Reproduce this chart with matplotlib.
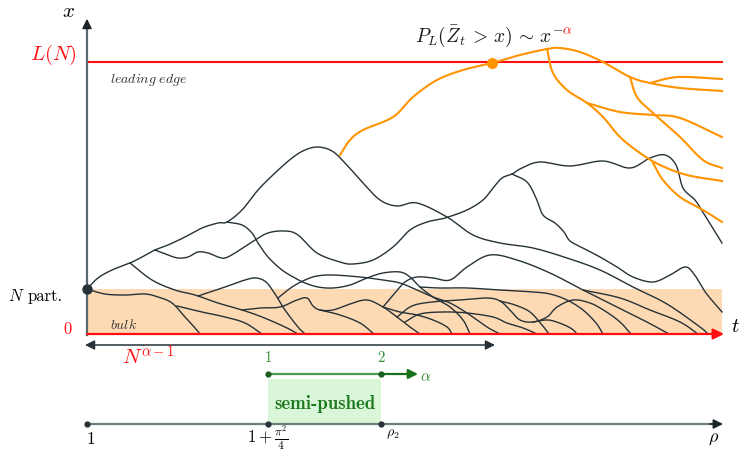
import numpy as np
import matplotlib
matplotlib.use('Agg')
import matplotlib.pyplot as plt
from matplotlib.transforms import Bbox

plt.rcParams['mathtext.fontset'] = 'cm'
plt.rcParams['font.family'] = ['cmr10', 'DejaVu Serif']
plt.rcParams['axes.unicode_minus'] = False

# schematic coordinates (pixel-like, y grows downwards)
T0, T1 = 87, 722          # time axis extent
Y0, YL, YB = 334, 62, 289  # t axis, L(N) level, top of bulk
RHO_Y = 424
rho_ticks = [87, 268, 381]
alpha_ticks = [268, 381]

# particle paths (dark), as (t, x) control points
trunk = [(87, 289), (98, 278), (112, 270), (130, 263), (142, 257), (155, 250), (168, 245), (185, 237),
         (202, 228), (218, 223), (227, 222), (242, 210), (258, 190), (275, 173), (292, 158), (305, 150),
         (318, 147), (332, 151), (345, 163), (363, 183), (380, 200), (397, 206), (417, 203), (447, 217),
         (473, 235), (500, 243), (533, 248), (567, 258), (600, 270), (633, 287), (667, 304), (700, 327),
         (708, 334)]
wavy = [(155, 250), (168, 255), (178, 258), (188, 257), (198, 252), (208, 253), (218, 257), (225, 258),
        (235, 253), (252, 242), (268, 233), (285, 231), (298, 235), (317, 253), (340, 262), (353, 264),
        (373, 260), (393, 247), (410, 230), (427, 222), (445, 218), (467, 210), (483, 200), (493, 188),
        (502, 178), (512, 174), (522, 168), (540, 162), (570, 166), (603, 161), (630, 168), (650, 158),
        (665, 155), (676, 165), (683, 188), (695, 200), (704, 214), (722, 243)]
drop = [(512, 174), (527, 182), (536, 198), (543, 215), (555, 223), (564, 232), (570, 241), (583, 248),
        (600, 257), (617, 267), (633, 277), (653, 282), (670, 275), (685, 267), (694, 274), (706, 293),
        (722, 312)]
hump_left = [(227, 222), (242, 225), (252, 233), (258, 243), (268, 257), (282, 270), (295, 278),
             (305, 283), (318, 287), (333, 288), (350, 285), (367, 278), (383, 273), (400, 272),
             (410, 277), (420, 287), (433, 297), (450, 307), (463, 320), (470, 334)]
root_low = [(87, 289), (105, 294), (125, 295), (145, 294), (158, 297), (172, 303), (185, 317),
            (195, 328), (200, 334)]
b_path = [(177, 306), (202, 312), (225, 317), (245, 323), (262, 334)]
c_path = [(130, 263), (152, 280), (175, 290), (195, 295), (218, 303), (242, 310), (262, 317),
          (285, 327), (298, 334)]
d_path = [(198, 296), (225, 287), (245, 280), (256, 278), (266, 282), (275, 294), (285, 310),
          (298, 327), (305, 334)]
e_path = [(278, 298), (292, 287), (305, 280), (317, 276), (333, 275), (360, 277), (383, 280),
          (400, 283), (417, 290), (433, 297), (450, 303), (467, 313), (487, 327), (500, 334)]
f_path = [(242, 310), (260, 308), (280, 307), (297, 300), (307, 298), (313, 306), (320, 310),
          (333, 310), (350, 304), (367, 300), (383, 307), (397, 317), (410, 327), (420, 334)]
g_path = [(320, 310), (340, 315), (360, 323), (374, 334)]
h_path = [(383, 307), (395, 293), (405, 282), (417, 277), (433, 278), (450, 280), (467, 267),
          (490, 255), (517, 260), (550, 273), (583, 290), (617, 307), (645, 321), (669, 334)]
i_path = [(420, 287), (440, 288), (467, 288), (500, 290), (533, 292), (550, 294), (567, 300),
          (583, 310), (596, 323), (603, 334)]
j_path = [(397, 317), (412, 306), (432, 302), (460, 300), (487, 298), (500, 301), (510, 310),
          (520, 320), (533, 322), (547, 317), (557, 307), (573, 300), (590, 303), (605, 311),
          (620, 322), (631, 334)]
k_path = [(383, 307), (400, 312), (417, 315), (433, 320), (447, 327), (452, 334)]
l_path = [(405, 322), (420, 314), (443, 312), (467, 313), (493, 317), (507, 323), (523, 328),
          (537, 334)]
m_path = [(533, 322), (548, 320), (562, 324), (572, 329), (577, 334)]
n_path = [(500, 301), (515, 305), (530, 312), (542, 325), (549, 334)]
o_path = [(583, 290), (620, 298), (650, 310), (680, 322), (698, 334)]
dark_paths = [trunk, wavy, drop, hump_left, root_low, b_path, c_path, d_path, e_path, f_path,
              g_path, h_path, i_path, j_path, k_path, l_path, m_path, n_path, o_path]

# leading edge paths (orange)
lead = [(340, 155), (350, 140), (363, 130), (393, 117), (413, 97), (437, 80), (463, 70), (492, 63),
        (520, 55), (547, 49), (560, 48), (580, 52), (603, 62), (630, 77), (650, 83), (680, 88),
        (722, 91)]
lead_a = [(630, 77), (637, 97), (653, 113), (680, 137), (703, 160), (722, 168)]
lead_b = [(650, 83), (670, 78), (687, 77), (722, 79)]
lead_c = [(547, 49), (553, 73), (567, 90), (587, 103), (603, 117), (620, 137), (640, 153),
          (660, 165), (687, 175), (722, 181)]
lead_d = [(587, 103), (620, 112), (653, 115), (680, 118), (722, 137)]
lead_e = [(653, 163), (663, 180), (680, 197), (703, 210), (722, 222)]
orange_paths = [lead, lead_a, lead_b, lead_c, lead_d, lead_e]
hit_point = (492, 63)


def smooth(pts, n=14):
    p = np.asarray(pts, float)
    p = np.vstack([2 * p[0] - p[1], p, 2 * p[-1] - p[-2]])
    s = np.linspace(0, 1, n, endpoint=False)[:, None]
    out = []
    for i in range(1, len(p) - 2):
        p0, p1, p2, p3 = p[i - 1], p[i], p[i + 1], p[i + 2]
        out.append(0.5 * (2 * p1 + (-p0 + p2) * s + (2 * p0 - 5 * p1 + 4 * p2 - p3) * s ** 2
                          + (-p0 + 3 * p1 - 3 * p2 + p3) * s ** 3))
    out.append(p[-2][None])
    return np.vstack(out)


fig = plt.figure(figsize=(7.41, 4.54), dpi=100)
ax = fig.add_axes([0, 0, 1, 1])
ax.set_xlim(0, 741)
ax.set_ylim(454, 0)
ax.axis('off')

dark = '#263238'
red = '#ff1010'
orange = '#ff9400'
green = '#1e7a1e'

# bulk band
ax.fill_between([T0, T1], YB, Y0, color='#fddab3', lw=0, zorder=1)

for p in dark_paths:
    c = smooth(p)
    ax.plot(c[:, 0], c[:, 1], color=dark, lw=1.0, zorder=3)
for p in orange_paths:
    c = smooth(p)
    ax.plot(c[:, 0], c[:, 1], color=orange, lw=1.5, zorder=4)

# L(N)
ax.plot([T0, T1], [YL, YL], color=red, lw=1.5, zorder=3)
ax.plot(*hit_point, 'o', color=orange, ms=7, zorder=5)
ax.plot(T0, YB, 'o', color=dark, ms=6.5, zorder=6)

# axes
ax.plot([T0, T0], [Y0 + 1, 22], color='#59696e', lw=1.6, zorder=5)
ax.annotate('', xy=(T0, 16), xytext=(T0, 30),
            arrowprops=dict(arrowstyle='-|>', color='#1c2326', lw=1.2, mutation_scale=14), zorder=6)
ax.annotate('', xy=(T1 + 2, Y0), xytext=(T0, Y0),
            arrowprops=dict(arrowstyle='-|>', color=red, lw=1.6, mutation_scale=16,
                            shrinkA=0, shrinkB=0), zorder=6)
ax.annotate('', xy=(T0 - 2, 345), xytext=(495, 345),
            arrowprops=dict(arrowstyle='<|-|>', color=dark, lw=1.1, mutation_scale=14,
                            shrinkA=0, shrinkB=0))

# labels
ax.text(68, 12, r'$x$', fontsize=15, ha='center', va='center')
ax.text(735, 327, r'$t$', fontsize=15, ha='center', va='center')
ax.text(53, 55, r'$L(N)$', fontsize=15, color=red, ha='center', va='center')
ax.text(110, 80, r'$\mathit{leading\ edge}$', fontsize=10, color='#333333', va='center')
ax.text(110, 325, r'$\mathit{bulk}$', fontsize=10, color='#333333', va='center')
ax.text(8, 296, r'$N$', fontsize=12, va='center')
ax.text(28, 296, 'part.', fontsize=12, va='center')
ax.text(68, 329, r'$0$', fontsize=12, color=red, ha='center', va='center')
ax.text(148, 357, r'$N^{\alpha-1}$', fontsize=15, color=red, ha='center', va='center')

# formula with a red alpha
fx, fy = 415, 42
full = r'$P_L(\bar{Z}_t\,>\,x)\,\sim\,x^{-\alpha}$'
pre = r'$P_L(\bar{Z}_t\,>\,x)\,\sim\,x^{-}$'
rend = fig.canvas.get_renderer()
tmp = ax.text(fx, fy, pre, fontsize=14, va='baseline')
cut = tmp.get_window_extent(rend).x1
tmp.remove()
tb = ax.text(fx, fy, full, fontsize=14, va='baseline', color='#1a1a1a', clip_on=True)
tb.set_clip_path(None)
tb.set_clip_box(Bbox([[0, 0], [cut, fig.bbox.height]]))
tr = ax.text(fx, fy, full, fontsize=14, va='baseline', color=red, clip_on=True)
tr.set_clip_path(None)
tr.set_clip_box(Bbox([[cut, 0], [fig.bbox.width, fig.bbox.height]]))

# alpha range (green)
ax.fill_between(alpha_ticks, 379, RHO_Y, color='#d9f6d9', lw=0, zorder=1)
ax.plot(alpha_ticks, [374, 374], color='#4e9a4e', lw=1.6, zorder=3)
ax.annotate('', xy=(418, 374), xytext=(alpha_ticks[1], 374),
            arrowprops=dict(arrowstyle='-|>', color='#17701a', lw=1.6, mutation_scale=14,
                            shrinkA=0, shrinkB=0))
ax.plot(alpha_ticks, [374, 374], 'o', color='#1b5e20', ms=3.5, zorder=4)
for xv, lab in zip(alpha_ticks, ['1', '2']):
    ax.text(xv, 358, r'$%s$' % lab, fontsize=10.5, color='#2e8b2e', ha='center', va='center')
ax.text(426, 377, r'$\alpha$', fontsize=11, color='#2e8b2e', ha='center', va='center')
ax.text(325, 404, 'semi-pushed', fontsize=13.5, color=green, ha='center', va='center',
        family=['cmb10', 'DejaVu Serif'])

# rho axis
ax.plot([T0, T1 - 8], [RHO_Y, RHO_Y], color='#6b7b80', lw=1.6, zorder=3)
ax.annotate('', xy=(T1 + 1, RHO_Y), xytext=(T1 - 12, RHO_Y),
            arrowprops=dict(arrowstyle='-|>', color='#1c2326', lw=1.2, mutation_scale=14,
                            shrinkA=0, shrinkB=0))
ax.plot(rho_ticks, [RHO_Y] * 3, 'o', color=dark, ms=3.5, zorder=4)
ax.text(91, 439, r'$1$', fontsize=12.5, ha='center', va='center')
ax.text(268, 438, r'$1+\frac{\pi^2}{4}$', fontsize=12, ha='center', va='center')
ax.text(393, 434, r'$\rho_2$', fontsize=10, ha='center', va='center')
ax.text(714, 439, r'$\rho$', fontsize=13, ha='center', va='center')

fig.savefig('out.png', dpi=100)
